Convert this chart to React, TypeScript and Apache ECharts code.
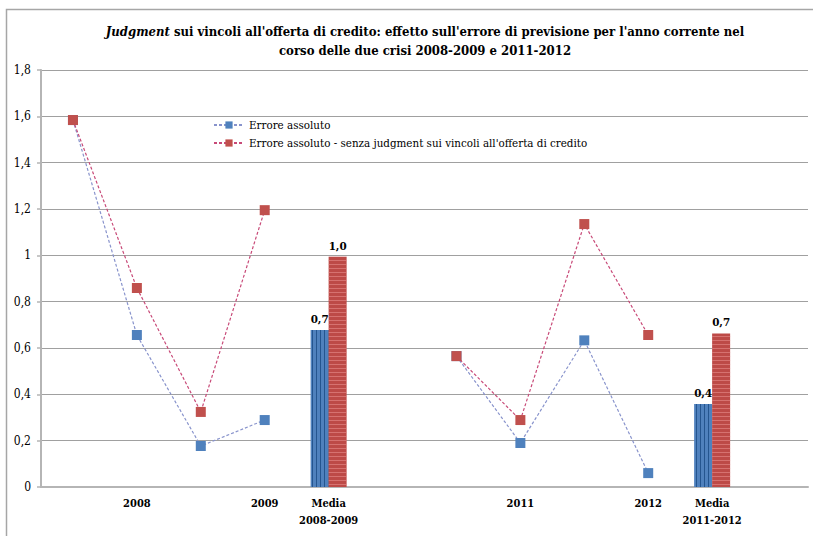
import React, { useEffect, useRef } from "react";
import * as echarts from "echarts";

const categories = ["", "2008", "", "2009", "Media\n2008-2009", "", "", "2011", "", "2012", "Media\n2011-2012", ""];
const erroreAssoluto = [1.584, 0.656, 0.177, 0.289, null, null, 0.565, 0.19, 0.633, 0.06, null, null];
const erroreSenzaJudgment = [1.584, 0.859, 0.324, 1.195, null, null, 0.565, 0.289, 1.135, 0.656, null, null];
const mediaErrore = [null, null, null, null, 0.678, null, null, null, null, null, 0.358, null];
const mediaSenzaJudgment = [null, null, null, null, 0.994, null, null, null, null, null, 0.663, null];
const yTicks = { min: 0, max: 1.8, interval: 0.2 };
const seriesNames = ["Errore assoluto", "Errore assoluto - senza judgment sui vincoli all'offerta di credito"];

const SERIF = "DejaVu Serif Condensed";
const fmtComma = (v: number) => String(Math.round(v * 10) / 10).replace(".", ",");

export default function App() {
  const ref = useRef<HTMLDivElement>(null);
  useEffect(() => {
    if (!ref.current) return;
    const chart = echarts.init(ref.current, null, { renderer: "svg" });
    const barLabel = {
      show: true,
      position: "top",
      distance: 5,
      fontFamily: SERIF,
      fontWeight: "bold",
      fontSize: 11.5,
      color: "#000",
      formatter: (p: any) => (p.value == null ? "" : Number(p.value).toFixed(1).replace(".", ",")),
    };
    chart.setOption({
      animation: false,
      backgroundColor: "#fff",
      title: {
        text: "{i|Judgment} sui vincoli all'offerta di credito: effetto sull'errore di previsione per l'anno corrente nel\n{b|corso delle due crisi 2008-2009 e 2011-2012}",
        left: 420,
        top: 17,
        textAlign: "center",
        textStyle: {
          fontFamily: SERIF,
          fontWeight: "bold",
          fontSize: 13,
          lineHeight: 19,
          color: "#000",
          align: "center",
          rich: {
            i: { fontFamily: SERIF, fontWeight: "bold", fontStyle: "italic", fontSize: 13, lineHeight: 19, color: "#000" },
            b: { fontFamily: SERIF, fontWeight: "bold", fontSize: 13, lineHeight: 19, color: "#000" },
          },
        },
      },
      legend: {
        data: seriesNames,
        orient: "vertical",
        left: 208,
        top: 114,
        itemWidth: 30,
        itemHeight: 9,
        itemGap: 6,
        textStyle: { fontFamily: SERIF, fontSize: 11.5, color: "#000" },
      },
      graphic: [
        {
          type: "rect",
          shape: { x: 6.5, y: 9.5, width: 900, height: 600 },
          style: { fill: "none", stroke: "#a6a6a6", lineWidth: 1.5 },
          silent: true,
          z: -10,
        },
      ],
      grid: { left: 41, right: 5, top: 70, bottom: 49, containLabel: false },
      xAxis: {
        type: "category",
        data: categories,
        boundaryGap: true,
        axisLine: { show: true, lineStyle: { color: "#b5b5b5", width: 2 } },
        axisTick: { show: false },
        axisLabel: {
          interval: 0,
          margin: 8,
          fontFamily: SERIF,
          fontWeight: "bold",
          fontSize: 11,
          lineHeight: 17,
          color: "#000",
        },
      },
      yAxis: {
        type: "value",
        min: yTicks.min,
        max: yTicks.max,
        interval: yTicks.interval,
        axisLine: { show: true, lineStyle: { color: "#b5b5b5", width: 2 } },
        axisTick: { show: true, length: 4, lineStyle: { color: "#b5b5b5", width: 1.5 } },
        splitLine: { show: true, lineStyle: { color: "#a0a0a0", width: 1.2 } },
        axisLabel: {
          margin: 10,
          fontFamily: SERIF,
          fontSize: 12,
          color: "#000",
          formatter: (v: number) => fmtComma(v),
        },
      },
      series: [
        {
          name: "media1",
          type: "bar",
          data: mediaErrore,
          barWidth: 18,
          barGap: "0%",
          itemStyle: {
            color: "#4f81bd",
            decal: { symbol: "rect", symbolSize: 1, dashArrayX: [1, 3], dashArrayY: [1, 0], color: "#24558f" },
          },
          label: barLabel,
        },
        {
          name: "media2",
          type: "bar",
          data: mediaSenzaJudgment,
          barWidth: 18,
          barGap: "0%",
          itemStyle: {
            color: "#bd4a47",
            decal: { symbol: "rect", symbolSize: 1, dashArrayX: [1, 0], dashArrayY: [1, 3], color: "rgba(230,140,140,0.6)" },
          },
          label: barLabel,
        },
        {
          name: seriesNames[0],
          type: "line",
          data: erroreAssoluto,
          connectNulls: false,
          symbol: "rect",
          symbolSize: 10,
          itemStyle: { color: "#4f81bd" },
          lineStyle: { color: "#8893cc", width: 1.2, type: [3, 2] },
          z: 3,
        },
        {
          name: seriesNames[1],
          type: "line",
          data: erroreSenzaJudgment,
          connectNulls: false,
          symbol: "rect",
          symbolSize: 10,
          itemStyle: { color: "#c0504d" },
          lineStyle: { color: "#c84a78", width: 1.2, type: [3, 2] },
          z: 4,
        },
      ],
    });
    return () => chart.dispose();
  }, []);
  return <div ref={ref} style={{ position: "fixed", left: 0, top: 0, width: 813, height: 536 }} />;
}
